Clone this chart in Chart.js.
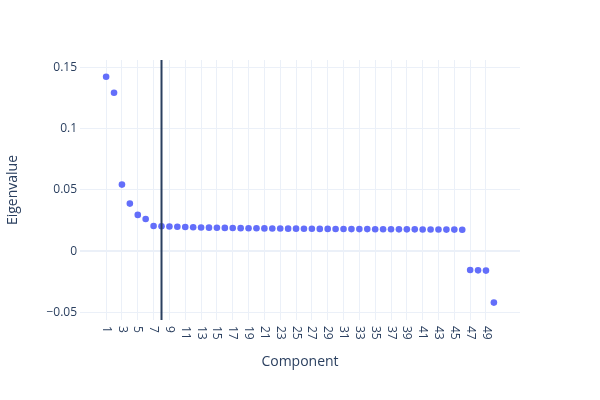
<!DOCTYPE html>
<html>
<head>
<meta charset="utf-8">
<script src="https://cdn.jsdelivr.net/npm/chart.js@4"></script>
<style>
  body { margin: 0; background: #fff; }
  #wrap { width: 600px; height: 400px; }
</style>
</head>
<body>
<div id="wrap"><canvas id="chart" width="600" height="400"></canvas></div>
<script>
// component numbers 1..50
const components = [
  1, 2, 3, 4, 5, 6, 7, 8, 9, 10, 11, 12, 13, 14, 15, 16, 17, 18, 19, 20,
  21, 22, 23, 24, 25, 26, 27, 28, 29, 30, 31, 32, 33, 34, 35, 36, 37, 38, 39, 40,
  41, 42, 43, 44, 45, 46, 47, 48, 49, 50
];
// eigenvalues
const eigenvalues = [
  0.1423, 0.1293, 0.0544, 0.0389, 0.0297, 0.0264, 0.0207, 0.0205, 0.0202, 0.0200,
  0.0198, 0.0196, 0.0194, 0.0193, 0.0192, 0.0191, 0.0190, 0.0189, 0.0188, 0.0188,
  0.0187, 0.0186, 0.0186, 0.0185, 0.0185, 0.0184, 0.0184, 0.0183, 0.0183, 0.0182,
  0.0182, 0.0181, 0.0181, 0.0181, 0.0180, 0.0180, 0.0180, 0.0179, 0.0179, 0.0179,
  0.0178, 0.0178, 0.0178, 0.0177, 0.0177, 0.0176, -0.0152, -0.0155, -0.0157, -0.0418
];
const cutoff = 8; // vertical marker line

const xTickValues = [1, 3, 5, 7, 9, 11, 13, 15, 17, 19, 21, 23, 25, 27, 29, 31, 33, 35, 37, 39, 41, 43, 45, 47, 49];
const xTickLabels = xTickValues.map(v => String(v));
const yTickValues = [-0.05, 0, 0.05, 0.1, 0.15];
const yTickLabels = ['\u22120.05', '0', '0.05', '0.1', '0.15'];

const xMin = -2.3, xMax = 53.3;
const yMin = -0.056, yMax = 0.156;

const fontFamily = '"Open Sans", verdana, arial, sans-serif';
const textColor = '#2a3f5f';
const gridColor = '#ebf0f8';

// draw x tick labels rotated clockwise (top-to-bottom), like the original
const rotatedXLabels = {
  id: 'rotatedXLabels',
  afterDraw(chart) {
    const ctx = chart.ctx;
    const xs = chart.scales.x;
    ctx.save();
    ctx.font = '12px ' + fontFamily;
    ctx.fillStyle = textColor;
    ctx.textAlign = 'left';
    ctx.textBaseline = 'middle';
    xTickValues.forEach((v, i) => {
      const px = xs.getPixelForValue(v);
      ctx.save();
      ctx.translate(px, chart.chartArea.bottom + 6);
      ctx.rotate(Math.PI / 2);
      ctx.fillText(xTickLabels[i], 0, 0);
      ctx.restore();
    });
    ctx.restore();
  }
};

const points = components.map((c, i) => ({ x: c, y: eigenvalues[i] }));

new Chart(document.getElementById('chart'), {
  type: 'scatter',
  data: {
    datasets: [
      {
        type: 'line',
        data: [{ x: cutoff, y: yMin }, { x: cutoff, y: yMax }],
        borderColor: '#2a3f5f',
        borderWidth: 2,
        pointRadius: 0,
        order: 0
      },
      {
        data: points,
        backgroundColor: '#636efa',
        borderWidth: 0,
        pointRadius: 3.3,
        order: 1
      }
    ]
  },
  options: {
    responsive: false,
    animation: false,
    layout: { padding: { top: 60, right: 80, left: 0, bottom: 0 } },
    plugins: {
      legend: { display: false },
      tooltip: { enabled: false }
    },
    scales: {
      x: {
        type: 'linear',
        min: xMin,
        max: xMax,
        border: { display: false },
        grid: { color: gridColor, drawTicks: false },
        ticks: { display: false },
        afterBuildTicks: scale => { scale.ticks = xTickValues.map(v => ({ value: v })); },
        afterFit: scale => { scale.height = 80; },
        title: {
          display: true,
          text: 'Component',
          color: textColor,
          font: { family: fontFamily, size: 14 },
          padding: { top: 0, bottom: 30 }
        }
      },
      y: {
        min: yMin,
        max: yMax,
        border: { display: false },
        grid: {
          color: gridColor,
          drawTicks: false,
          lineWidth: ctx => (ctx.tick && ctx.tick.value === 0 ? 2 : 1)
        },
        afterBuildTicks: scale => { scale.ticks = yTickValues.map(v => ({ value: v })); },
        afterFit: scale => { scale.width = 80; },
        ticks: {
          padding: 3,
          color: textColor,
          font: { family: fontFamily, size: 12 },
          callback: (value, index) => yTickLabels[index]
        },
        title: {
          display: true,
          text: 'Eigenvalue',
          color: textColor,
          font: { family: fontFamily, size: 14 },
          padding: { top: 5, bottom: 0 }
        }
      }
    }
  },
  plugins: [rotatedXLabels]
});
</script>
</body>
</html>
